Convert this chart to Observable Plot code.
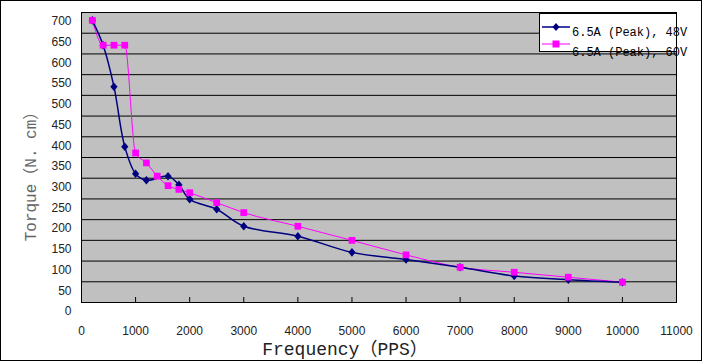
<!DOCTYPE html>
<html>
<head>
<meta charset="utf-8">
<script src="https://cdn.jsdelivr.net/npm/d3@7"></script>
<script src="https://cdn.jsdelivr.net/npm/@observablehq/plot@0.6"></script>
<style>
  html, body { margin: 0; padding: 0; background: #fff; }
  #wrap { position: relative; width: 704px; height: 361px; overflow: hidden; background: #fff; }
  #border { position: absolute; left: 0; top: 0; width: 702px; height: 361px; box-sizing: border-box; border: 1px solid #000; pointer-events: none; }
  #legend { position: absolute; left: 539px; top: 13px; width: 138px; height: 39px; box-sizing: border-box; border: 1px solid #000; background: #fff; }
  .lg-sym { position: absolute; left: 1px; }
  .lg-txt { position: absolute; left: 32px; font-family: "Liberation Mono", monospace; font-size: 12px; color: #000; white-space: nowrap; line-height: 14px; }
</style>
</head>
<body>
<div id="wrap"></div>
<script>
// ---- data ----
const series48Name = "6.5A (Peak), 48V";
const freq48   = [200, 400, 600, 800, 1000, 1200, 1600, 1800, 2000, 2500, 3000, 4000, 5000, 6000, 7000, 8000, 9000, 10000];
const torque48 = [681, 621, 521, 376, 311, 295, 305, 284, 249, 225, 184, 160, 121, 104, 85, 64, 55, 49];

const series60Name = "6.5A (Peak), 60V";
const freq60   = [200, 400, 600, 800, 1000, 1200, 1400, 1600, 1800, 2000, 2500, 3000, 4000, 5000, 6000, 7000, 8000, 9000, 10000];
const torque60 = [681, 621, 621, 621, 361, 337, 305, 282, 273, 265, 241, 217, 184, 150, 115, 85, 73, 61, 49];

const xTicks = [0, 1000, 2000, 3000, 4000, 5000, 6000, 7000, 8000, 9000, 10000, 11000];
const yTicks = [0, 50, 100, 150, 200, 250, 300, 350, 400, 450, 500, 550, 600, 650, 700];
const yGrid  = [50, 100, 150, 200, 250, 300, 350, 400, 450, 500, 550, 600, 650];

const xTitle = "Frequency（PPS）";
const yTitle = "Torque（N. cm）";

const navy = "#000080";
const magenta = "#FF00FF";

const d48 = freq48.map((f, i) => ({f, t: torque48[i]}));
const d60 = freq60.map((f, i) => ({f, t: torque60[i]}));

// custom diamond symbol (wider than d3's default)
const wideDiamond = {
  draw(ctx, size) {
    const h = Math.sqrt(size) * 0.75, w = h * 0.85;
    ctx.moveTo(0, -h); ctx.lineTo(w, 0); ctx.lineTo(0, h); ctx.lineTo(-w, 0); ctx.closePath();
  }
};

const titleFont = "'Liberation Mono', 'Noto Sans CJK SC', monospace";

const chart = Plot.plot({
  width: 704,
  height: 361,
  marginLeft: 81,
  marginRight: 28,
  marginTop: 12,
  marginBottom: 59,
  style: { fontFamily: "'Liberation Sans', Arial, sans-serif", fontSize: "12px", color: "#222", background: "transparent" },
  x: { domain: [0, 11000], axis: null },
  y: { domain: [0, 700], axis: null },
  marks: [
    Plot.frame({ fill: "#C0C0C0", stroke: null }),
    Plot.ruleY(yGrid, { stroke: "#000", strokeWidth: 1 }),
    Plot.ruleX(xTicks.slice(1, -1), { stroke: "#000", strokeWidth: 1, insetTop: 285 }),
    Plot.frame({ stroke: "#000", strokeWidth: 1 }),
    Plot.axisY({ ticks: yTicks, tickSize: 0, tickPadding: 10, dy: 9, label: null, fill: "#222", fontSize: 12, tickFormat: d => String(d) }),
    Plot.axisX({ ticks: xTicks, tickSize: 0, tickPadding: 24, label: null, fill: "#222", fontSize: 12, tickFormat: d => String(d) }),
    Plot.line(d60, { x: "f", y: "t", stroke: magenta, strokeWidth: 1, curve: "monotone-x" }),
    Plot.line(d48, { x: "f", y: "t", stroke: navy, strokeWidth: 1.5, curve: "catmull-rom" }),
    Plot.dot(d48, { x: "f", y: "t", symbol: wideDiamond, r: 3.2, fill: navy, stroke: null }),
    Plot.dot(d60, { x: "f", y: "t", symbol: "square", r: 3.8, fill: magenta, stroke: null }),
    Plot.text([yTitle], { frameAnchor: "left", textAnchor: "middle", dx: -51, dy: 15, rotate: -90, fontFamily: titleFont, fontSize: 16, fill: "#666" }),
    Plot.text([xTitle], { frameAnchor: "bottom", textAnchor: "middle", lineAnchor: "middle", dx: -34, dy: 47, fontFamily: titleFont, fontSize: 18, fill: "#222" })
  ]
});

const wrap = document.getElementById("wrap");
chart.style.position = "absolute";
chart.style.left = "0px";
chart.style.top = "0px";
wrap.appendChild(chart);

// legend (HTML overlay)
const legend = document.createElement("div");
legend.id = "legend";
legend.innerHTML = `
  <svg class="lg-sym" style="top:6px" width="30" height="14">
    <line x1="1" x2="29" y1="7" y2="7" stroke="${navy}" stroke-width="1.5"/>
    <path d="M15,3 L18.5,7 L15,11 L11.5,7 Z" fill="${navy}"/>
  </svg>
  <svg class="lg-sym" style="top:23px" width="30" height="14">
    <line x1="1" x2="29" y1="7" y2="7" stroke="${magenta}" stroke-width="1"/>
    <rect x="11.5" y="3.5" width="7" height="7" fill="${magenta}"/>
  </svg>
  <div class="lg-txt" style="top:12px">${series48Name}</div>
  <div class="lg-txt" style="top:32px">${series60Name}</div>
`;
wrap.appendChild(legend);

const border = document.createElement("div");
border.id = "border";
wrap.appendChild(border);
</script>
</body>
</html>
